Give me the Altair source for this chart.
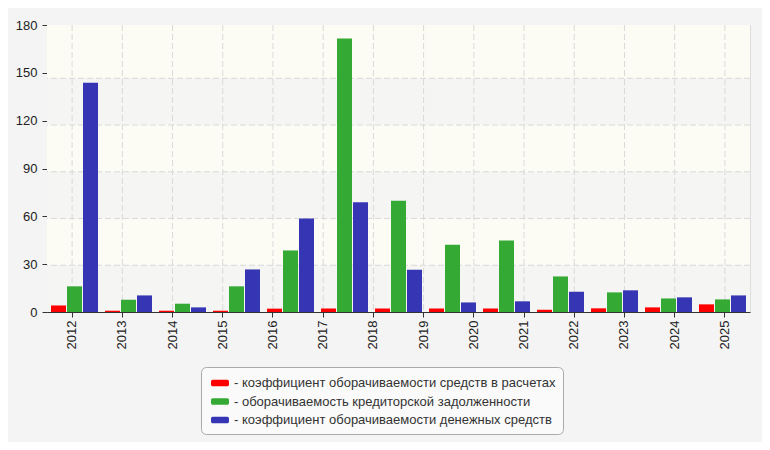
import altair as alt
import pandas as pd

# ---- data ----
years = ["2012", "2013", "2014", "2015", "2016", "2017", "2018",
         "2019", "2020", "2021", "2022", "2023", "2024", "2025"]
groups = list(range(1, 14))  # the picture shows 13 bar groups under 14 year labels
series = [
    "коэффициент оборачиваемости средств в расчетах",
    "оборачиваемость кредиторской задолженности",
    "коэффициент оборачиваемости денежных средств",
]
red_vals = [4.1, 0.8, 0.8, 0.8, 2.1, 2.2, 2.2, 2.2, 2.2, 1.4, 2.3, 2.9, 4.8]
green_vals = [16.1, 7.7, 5.2, 16.1, 38.6, 171.6, 69.8, 42.2, 44.9, 22.3, 12.3, 8.5, 7.9]
blue_vals = [143.8, 10.4, 2.9, 26.7, 58.7, 68.8, 26.5, 6.0, 6.7, 12.7, 13.6, 9.2, 10.4]
colors = ["#ff0000", "#34a934", "#3636b4"]

y_ticks = [0, 30, 60, 90, 120, 150, 180]
grid_values = [30, 60, 90, 120, 150]
band_lo = [0, 30, 60, 90, 120, 150]
band_hi = [30, 60, 90, 120, 150, 184.2]
band_kind = ["h", "p", "h", "p", "h", "p"]
GRID_DOMAIN = [0, 184.2]

FONT = "Liberation Sans"

rows = []
for s, vals in zip(series, [red_vals, green_vals, blue_vals]):
    for g, v in zip(groups, vals):
        rows.append({"g": g, "s": s, "v": v})
bars_df = pd.DataFrame(rows)
bands_df = pd.DataFrame({"lo": band_lo, "hi": band_hi, "kind": band_kind})
hgrid_df = pd.DataFrame({"v": grid_values})
years_df = pd.DataFrame({"year": years})

bands = alt.Chart(bands_df).mark_rect().encode(
    y=alt.Y("lo:Q", scale=alt.Scale(domain=GRID_DOMAIN, nice=False, zero=True), axis=None),
    y2="hi:Q",
    fill=alt.condition(alt.datum.kind == "h", alt.value("#f5f5f4"), alt.value("#fcfcf5")),
)

hgrid = alt.Chart(hgrid_df).mark_rule(color="#d9d9d9", strokeDash=[6, 3], strokeWidth=1).encode(
    y=alt.Y("v:Q", scale=alt.Scale(domain=GRID_DOMAIN, nice=False, zero=True), axis=None),
)

vgrid = alt.Chart(years_df).mark_rule(color="#d9d9d9", strokeDash=[6, 3], strokeWidth=1).encode(
    x=alt.X(
        "year:O",
        sort=years,
        scale=alt.Scale(paddingInner=0, paddingOuter=0),
        axis=alt.Axis(
            title=None, labelAngle=-90, labelFontSize=13, labelFont=FONT, labelColor="#222",
            tickColor="#333", domainColor="#333", tickSize=5, labelPadding=3,
            bandPosition=0.5, grid=False, orient="bottom",
        ),
    ),
)

symbol_path = "M-0.8,-0.36H0.8A0.2,0.2 0 0 1 1,-0.16V0.16A0.2,0.2 0 0 1 0.8,0.36H-0.8A0.2,0.2 0 0 1 -1,0.16V-0.16A0.2,0.2 0 0 1 -0.8,-0.36Z"

bars = alt.Chart(bars_df).mark_bar().encode(
    x=alt.X("g:O", scale=alt.Scale(paddingInner=7 / 54, paddingOuter=4 / 54), axis=None),
    xOffset=alt.XOffset("s:N", sort=series, scale=alt.Scale(paddingInner=1 / 16, paddingOuter=0)),
    y=alt.Y(
        "v:Q",
        scale=alt.Scale(domain=[0, 180], nice=False, zero=True),
        axis=alt.Axis(
            values=y_ticks, title=None, orient="left", labelFontSize=13, labelFont=FONT,
            labelColor="#222", tickColor="#333", domainColor="#333", tickSize=5,
            labelPadding=5, grid=False,
        ),
    ),
    color=alt.Color(
        "s:N",
        sort=series,
        scale=alt.Scale(domain=series, range=colors),
        legend=alt.Legend(
            title=None, orient="none", legendX=154, legendY=342, direction="vertical",
            fillColor="#fafafa", strokeColor="#aaaaaa", cornerRadius=5, padding=7,
            labelFontSize=13, labelFont=FONT, labelColor="#333", labelLimit=0,
            labelExpr="'- ' + datum.label", symbolType=symbol_path, symbolSize=324,
            symbolStrokeWidth=0, symbolOffset=3, labelOffset=5, rowPadding=2.5,
        ),
    ),
)

chart = (
    alt.layer(bands, hgrid, vgrid, bars)
    .resolve_scale(x="independent", y="independent")
    .properties(
        width=703, height=287,
        autosize=alt.AutoSizeParams(type="none"),
        padding={"left": 39, "top": 17, "right": 12, "bottom": 130},
        background="#f4f4f4",
    )
    .configure_view(stroke="#dddddd", strokeWidth=1)
)

chart.save("out.html", embed_options={"renderer": "svg", "actions": False})
